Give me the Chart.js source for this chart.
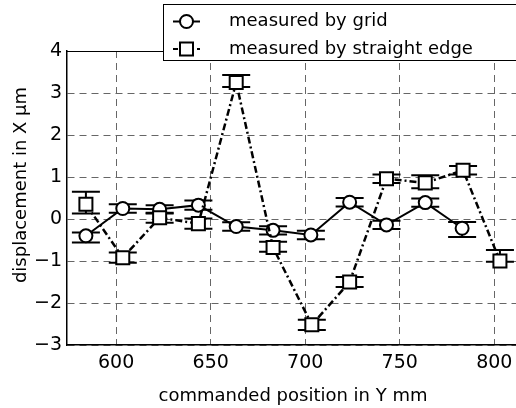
<!DOCTYPE html>
<html>
<head>
<meta charset="utf-8">
<script src="https://cdn.jsdelivr.net/npm/chart.js@4/dist/chart.umd.min.js"></script>
<style>
html,body{margin:0;padding:0;background:#fff;overflow:hidden;}
#wrap{position:relative;width:516px;height:408px;}
</style>
</head>
<body>
<div id="wrap"><canvas id="c" width="516" height="408"></canvas></div>
<script>
// ---- data ----
const gridPositions = [584, 603.5, 623, 643.5, 663.5, 683, 703, 723.5, 743, 763.5, 783];
const gridValues    = [-0.40, 0.25, 0.23, 0.33, -0.18, -0.27, -0.38, 0.40, -0.14, 0.39, -0.22];
const gridErrUp     = [0.08, 0.1, 0.1, 0.11, 0.1, 0.1, 0.1, 0.1, 0.1, 0.1, 0.15];
const gridErrDown   = [0.16, 0.1, 0.1, 0.11, 0.1, 0.1, 0.1, 0.1, 0.1, 0.1, 0.21];

const edgePositions = [584, 603.5, 623, 643.5, 663.5, 683, 703.5, 723.5, 743, 763.5, 783.5, 803];
const edgeValues    = [0.35, -0.92, 0.03, -0.11, 3.25, -0.68, -2.52, -1.50, 0.96, 0.86, 1.16, -1.00];
const edgeErrUp     = [0.30, 0.12, 0.12, 0.12, 0.18, 0.14, 0.12, 0.12, 0.1, 0.18, 0.1, 0.26];
const edgeErrDown   = [0.22, 0.12, 0.12, 0.12, 0.11, 0.10, 0.12, 0.12, 0.1, 0.13, 0.1, 0.02];

const seriesLabels = ['measured by grid', 'measured by straight edge'];
const xTicks = [600, 650, 700, 750, 800];
const yTicks = [-3, -2, -1, 0, 1, 2, 3, 4];
const xTitle = 'commanded position in Y mm';
const yTitle = 'displacement in X \u00b5m';

const FONT = '"DejaVu Sans", sans-serif';
const EDGE_DASH = [7, 3, 2, 3];

const toPts = (xs, ys) => xs.map((x, i) => ({x: x, y: ys[i]}));

const errorBars = {
  id: 'errorBars',
  beforeDatasetsDraw(chart) {
    const {ctx, chartArea, scales} = chart;
    const sets = [
      [gridPositions, gridValues, gridErrUp, gridErrDown],
      [edgePositions, edgeValues, edgeErrUp, edgeErrDown]
    ];
    ctx.save();
    ctx.beginPath();
    ctx.rect(chartArea.left, chartArea.top, chartArea.right - chartArea.left, chartArea.bottom - chartArea.top);
    ctx.clip();
    ctx.strokeStyle = '#000';
    ctx.lineWidth = 2;
    ctx.setLineDash([]);
    sets.forEach(([xs, ys, up, dn]) => {
      xs.forEach((xv, i) => {
        const px = scales.x.getPixelForValue(xv);
        const pt = scales.y.getPixelForValue(ys[i] + up[i]);
        const pb = scales.y.getPixelForValue(ys[i] - dn[i]);
        const cap = 14;
        ctx.beginPath();
        ctx.moveTo(px, pt); ctx.lineTo(px, pb);
        ctx.moveTo(px - cap, pt); ctx.lineTo(px + cap, pt);
        ctx.moveTo(px - cap, pb); ctx.lineTo(px + cap, pb);
        ctx.stroke();
      });
    });
    ctx.restore();
  }
};

const decorations = {
  id: 'decorations',
  afterDraw(chart) {
    const {ctx, chartArea} = chart;
    ctx.save();
    // top frame line
    ctx.strokeStyle = '#000';
    ctx.lineWidth = 1;
    ctx.setLineDash([]);
    ctx.beginPath();
    ctx.moveTo(chartArea.left, chartArea.top + 0.5);
    ctx.lineTo(chartArea.right, chartArea.top + 0.5);
    ctx.stroke();

    // axis titles
    ctx.fillStyle = '#000';
    ctx.font = '18px ' + FONT;
    ctx.textAlign = 'center';
    ctx.textBaseline = 'middle';
    ctx.fillText(xTitle, 293, 396);
    ctx.save();
    ctx.translate(21, 185);
    ctx.rotate(-Math.PI / 2);
    ctx.fillText(yTitle, 0, 0);
    ctx.restore();

    // legend box
    ctx.fillStyle = '#fff';
    ctx.fillRect(163.5, 4.5, 360, 56);
    ctx.strokeStyle = '#000';
    ctx.lineWidth = 1;
    ctx.strokeRect(163.5, 4.5, 360, 56);

    const rows = [21.5, 49];
    // row 1: solid line + circle
    ctx.lineWidth = 2;
    ctx.beginPath();
    ctx.moveTo(173, rows[0]); ctx.lineTo(200, rows[0]);
    ctx.stroke();
    ctx.beginPath();
    ctx.arc(186.5, rows[0], 6.5, 0, Math.PI * 2);
    ctx.fillStyle = '#fff';
    ctx.fill();
    ctx.stroke();
    // row 2: dashed line + square
    ctx.setLineDash([5, 3]);
    ctx.beginPath();
    ctx.moveTo(173, rows[1]); ctx.lineTo(200, rows[1]);
    ctx.stroke();
    ctx.setLineDash([]);
    ctx.fillStyle = '#fff';
    ctx.fillRect(180, rows[1] - 6.5, 13, 13);
    ctx.strokeRect(180, rows[1] - 6.5, 13, 13);

    ctx.fillStyle = '#000';
    ctx.font = '18px ' + FONT;
    ctx.textAlign = 'left';
    ctx.textBaseline = 'middle';
    ctx.fillText(seriesLabels[0], 229, rows[0]);
    ctx.fillText(seriesLabels[1], 229, rows[1]);
    ctx.restore();
  }
};

new Chart(document.getElementById('c'), {
  type: 'scatter',
  data: {
    datasets: [
      {
        label: seriesLabels[0],
        data: toPts(gridPositions, gridValues),
        showLine: true,
        borderColor: '#000',
        borderWidth: 2,
        backgroundColor: '#fff',
        pointStyle: 'circle',
        pointRadius: 6.5,
        pointBorderWidth: 2,
        pointBackgroundColor: '#fff',
        pointBorderColor: '#000',
        order: 2
      },
      {
        label: seriesLabels[1],
        data: toPts(edgePositions, edgeValues),
        showLine: true,
        borderColor: '#000',
        borderWidth: 2.5,
        borderDash: EDGE_DASH,
        backgroundColor: '#fff',
        pointStyle: 'rect',
        pointRadius: 9.2,
        pointBorderWidth: 2,
        pointBackgroundColor: '#fff',
        pointBorderColor: '#000',
        order: 1
      }
    ]
  },
  options: {
    responsive: false,
    animation: false,
    events: [],
    layout: {autoPadding: false, padding: {top: 51, right: 0, bottom: 0, left: 0}},
    plugins: {legend: {display: false}, tooltip: {enabled: false}},
    scales: {
      x: {
        type: 'linear',
        min: 574,
        max: 811.5,
        afterFit(s) { s.height = 63; s.paddingLeft = 0; s.paddingRight = 0; },
        afterBuildTicks(s) { s.ticks = xTicks.map(v => ({value: v})); },
        grid: {color: '#666', lineWidth: 1, drawTicks: false},
        border: {display: true, color: '#000', width: 1.5, dash: [7, 5]},
        ticks: {
          color: '#000', padding: 7,
          font: {family: FONT, size: 19},
          callback: v => String(v)
        }
      },
      y: {
        type: 'linear',
        min: -3,
        max: 4,
        afterFit(s) { s.width = 67; s.paddingTop = 0; s.paddingBottom = 0; },
        afterBuildTicks(s) { s.ticks = yTicks.map(v => ({value: v})); },
        grid: {color: '#666', lineWidth: 1, drawTicks: false},
        border: {display: true, color: '#000', width: 1.5, dash: [7, 5]},
        ticks: {
          color: '#000', padding: 5,
          font: {family: FONT, size: 19},
          callback: v => String(v).replace('-', '\u2212')
        }
      }
    }
  },
  plugins: [errorBars, decorations]
});
</script>
</body>
</html>
